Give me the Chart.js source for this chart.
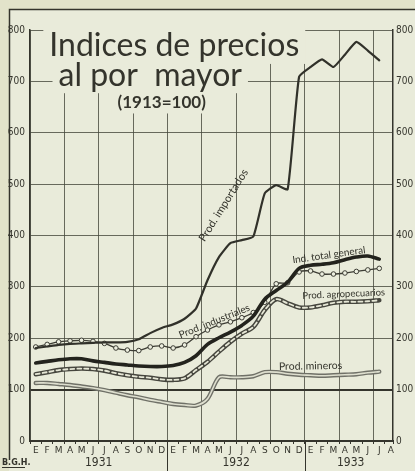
<!DOCTYPE html>
<html>
<head>
<meta charset="utf-8">
<script src="https://cdn.jsdelivr.net/npm/chart.js@4.4.1/dist/chart.umd.min.js"></script>
<style>
  html, body { margin: 0; padding: 0; background: #e2e3ca; }
  canvas { display: block; }
</style>
</head>
<body>
<canvas id="chart" width="415" height="471"></canvas>
<script>
// months E 1931 .. J 1933 (31 monthly values), axis shows through A 1933
var monthLabels = ['E','F','M','A','M','J','J','A','S','O','N','D',
                   'E','F','M','A','M','J','J','A','S','O','N','D',
                   'E','F','M','A','M','J','J','A'];
var yearLabels = ['1931', '1932', '1933'];
var yearTicks = [6, 18, 28];
var yearBounds = [12, 24];
var yTicks = [0, 100, 200, 300, 400, 500, 600, 700, 800];

var importados    = [181, 184, 187, 189, 190, 191, 192, 192, 193, 198, 210, 220, 227, 238, 258, 313,
                     358, 385, 391, 398, 482, 498, 490, 709, 728, 743, 728, 752, 777, 760, 741];
var totalGeneral  = [152, 155, 158, 160, 160, 156, 153, 150, 148, 146, 145, 145, 147, 153, 166, 188,
                     201, 212, 225, 243, 276, 293, 309, 336, 342, 344, 347, 353, 358, 360, 354];
var industriales  = [183, 188, 193, 195, 196, 194, 190, 181, 177, 176, 183, 185, 181, 187, 203, 216,
                     226, 232, 240, 250, 270, 306, 308, 329, 331, 325, 325, 327, 330, 333, 336];
var agropecuarios = [130, 134, 138, 140, 141, 140, 137, 132, 128, 125, 123, 120, 119, 122, 138, 154,
                     174, 193, 209, 222, 255, 276, 268, 260, 260, 264, 269, 271, 271, 272, 274];
var mineros       = [113, 113, 111, 109, 106, 103, 99, 94, 89, 85, 80, 76, 72, 70, 69, 82,
                     124, 124, 124, 126, 134, 134, 131, 129, 128, 127, 128, 129, 130, 133, 135];

var titleLines = ['Indices de precios', 'al por  mayor', '(1913=100)'];

var ink = '#34342c';
var gridInk = 'rgba(70, 72, 60, 0.8)';
var paper = '#e9ebda';

function points(values) {
    return values.map(function (v, i) { return { x: i + 0.5, y: v }; });
}

// annotations: [text, month, value, angle deg, font px]
var seriesNotes = [
    ['Prod. importados', 16.9, 459, -58, 11],
    ['Prod. industriales', 16.1, 233, -22, 10],
    ['Ind. total general', 26.1, 362, -8, 10],
    ['Prod. agropecuarios', 27.4, 286, -2.5, 9.5],
    ['Prod. mineros', 24.5, 146, -1, 10.5]
];
var titleSpots = [[12.6, 769, 'normal 32px Lato'], [10.5, 712, 'normal 32px Lato'], [11.5, 658, 'bold 17px Lato']];

var decorations = {
    id: 'decorations',
    beforeDraw: function (chart) {
        var c = chart.ctx;
        c.save();
        c.fillStyle = '#e2e3ca';
        c.fillRect(0, 0, chart.width, chart.height);
        c.fillStyle = paper;
        c.fillRect(9, 9, chart.width - 9, chart.height - 9);
        c.strokeStyle = ink;
        c.lineWidth = 1.5;
        c.beginPath();
        c.moveTo(9.5, 460);
        c.lineTo(9.5, 9.5);
        c.lineTo(chart.width, 9.5);
        c.stroke();
        c.restore();
    },
    beforeDatasetsDraw: function (chart) {
        var c = chart.ctx, xs = chart.scales.x, ys = chart.scales.y;
        c.save();
        c.textAlign = 'center';
        c.textBaseline = 'middle';
        // blank the grid behind the title first, then write all lines
        titleLines.forEach(function (t, k) {
            var px = xs.getPixelForValue(titleSpots[k][0]);
            var py = ys.getPixelForValue(titleSpots[k][1]);
            c.font = titleSpots[k][2];
            var w = c.measureText(t).width;
            var h = parseFloat(titleSpots[k][2].split(' ')[1]);
            c.fillStyle = paper;
            c.fillRect(px - w / 2 - 6, py - h / 2 - 2, w + 12, h + 4);
        });
        c.fillStyle = ink;
        titleLines.forEach(function (t, k) {
            c.font = titleSpots[k][2];
            c.fillText(t, xs.getPixelForValue(titleSpots[k][0]), ys.getPixelForValue(titleSpots[k][1]));
        });
        c.restore();
    },
    afterDraw: function (chart) {
        var c = chart.ctx, xs = chart.scales.x, ys = chart.scales.y;
        var area = chart.chartArea;
        c.save();
        c.strokeStyle = ink;
        c.lineWidth = 1;
        yearBounds.forEach(function (m) {
            var px = Math.round(xs.getPixelForValue(m)) + 0.5;
            c.beginPath();
            c.moveTo(px, area.bottom);
            c.lineTo(px, chart.height);
            c.stroke();
        });
        c.fillStyle = ink;
        c.textAlign = 'center';
        c.textBaseline = 'middle';
        seriesNotes.forEach(function (n) {
            c.save();
            c.translate(xs.getPixelForValue(n[1]), ys.getPixelForValue(n[2]));
            c.rotate(n[3] * Math.PI / 180);
            c.font = n[4] + 'px Lato';
            c.fillText(n[0], 0, 0);
            c.restore();
        });
        c.font = 'bold 8px "DejaVu Sans"';
        c.textAlign = 'left';
        c.fillText('B.G.H.', 2, 463);
        c.fillRect(2, 467, 23, 1);
        c.restore();
    }
};

var narrow = '"Liberation Sans Narrow", "DejaVu Sans Condensed", "Roboto Condensed", sans-serif';

var context = document.getElementById('chart').getContext('2d');
var chart = new Chart(context, {
    type: 'line',
    data: {
        datasets: [
            { data: points(importados), borderColor: '#31312a', borderWidth: 2.2, tension: 0.15, order: 1 },
            { data: points(totalGeneral), borderColor: '#23231d', borderWidth: 3.6, tension: 0.3, order: 2 },
            { data: points(industriales), borderColor: '#3c3c34', borderWidth: 1.3, tension: 0.3, order: 3,
              pointRadius: 2.3, pointBackgroundColor: '#eceedf', pointBorderColor: '#3c3c34', pointBorderWidth: 1 },
            { data: points(agropecuarios), borderColor: '#e6e7d6', borderWidth: 1.8, borderDash: [4, 3], tension: 0.3, order: 4 },
            { data: points(agropecuarios), borderColor: '#46463e', borderWidth: 4.6, tension: 0.3, order: 5 },
            { data: points(mineros), borderColor: '#dedfcf', borderWidth: 1.6, tension: 0.3, order: 6 },
            { data: points(mineros), borderColor: '#707168', borderWidth: 4.4, tension: 0.3, order: 7 }
        ]
    },
    options: {
        responsive: false,
        animation: false,
        layout: { padding: { top: 30, left: 0, right: 0, bottom: 0 } },
        elements: { point: { radius: 0 }, line: { borderCapStyle: 'round', borderJoinStyle: 'round' } },
        plugins: { legend: { display: false }, tooltip: { enabled: false }, title: { display: false } },
        scales: {
            x: {
                type: 'linear', min: 0, max: 31.7, position: 'bottom', weight: 0,
                afterBuildTicks: function (s) {
                    var t = [];
                    for (var i = 0; i < 32; i++) t.push({ value: i });
                    t.push({ value: 31.7 });
                    s.ticks = t;
                },
                grid: {
                    color: function (c) { return (c.tick && c.tick.value % 3 === 0) ? gridInk : 'rgba(0,0,0,0)'; },
                    tickColor: ink, tickLength: 3, lineWidth: 1
                },
                border: { color: ink, width: 2 },
                ticks: { display: false },
                afterFit: function (s) { s.height = 3; }
            },
            xm: {
                type: 'linear', min: 0, max: 31.7, position: 'bottom', weight: 1,
                afterBuildTicks: function (s) {
                    s.ticks = monthLabels.map(function (m, i) { return { value: i + 0.5 }; });
                },
                grid: { display: false, drawTicks: false },
                border: { display: false },
                ticks: {
                    autoSkip: false, maxRotation: 0, padding: 1, color: ink,
                    font: { family: '"DejaVu Sans"', size: 9 },
                    callback: function (v, i) { return monthLabels[i]; }
                },
                afterFit: function (s) { s.height = 12; }
            },
            xy: {
                type: 'linear', min: 0, max: 31.7, position: 'bottom', weight: 2,
                afterBuildTicks: function (s) {
                    s.ticks = yearTicks.map(function (m) { return { value: m }; });
                },
                grid: { display: false, drawTicks: false },
                border: { display: false },
                ticks: {
                    autoSkip: false, maxRotation: 0, padding: 0, color: ink,
                    font: { family: narrow, size: 12 },
                    callback: function (v, i) { return yearLabels[i]; }
                },
                afterFit: function (s) { s.height = 15; }
            },
            y: {
                type: 'linear', position: 'left', min: 0, max: 800,
                afterBuildTicks: function (s) { s.ticks = yTicks.map(function (v) { return { value: v }; }); },
                grid: {
                    color: function (c) { return c.tick && c.tick.value === 100 ? ink : gridInk; },
                    lineWidth: function (c) { return c.tick && c.tick.value === 100 ? 2 : 1; },
                    drawTicks: false
                },
                border: { color: ink, width: 1.5 },
                ticks: { padding: 5, color: ink, font: { family: narrow, size: 10 } },
                afterFit: function (s) { s.width = 30; }
            },
            y2: {
                type: 'linear', position: 'right', min: 0, max: 800,
                afterBuildTicks: function (s) { s.ticks = yTicks.map(function (v) { return { value: v }; }); },
                grid: { drawOnChartArea: false, drawTicks: false },
                border: { color: ink, width: 1.5 },
                ticks: { padding: 3, color: ink, font: { family: narrow, size: 10 } },
                afterFit: function (s) { s.width = 22; }
            }
        }
    },
    plugins: [decorations]
});
</script>
</body>
</html>
